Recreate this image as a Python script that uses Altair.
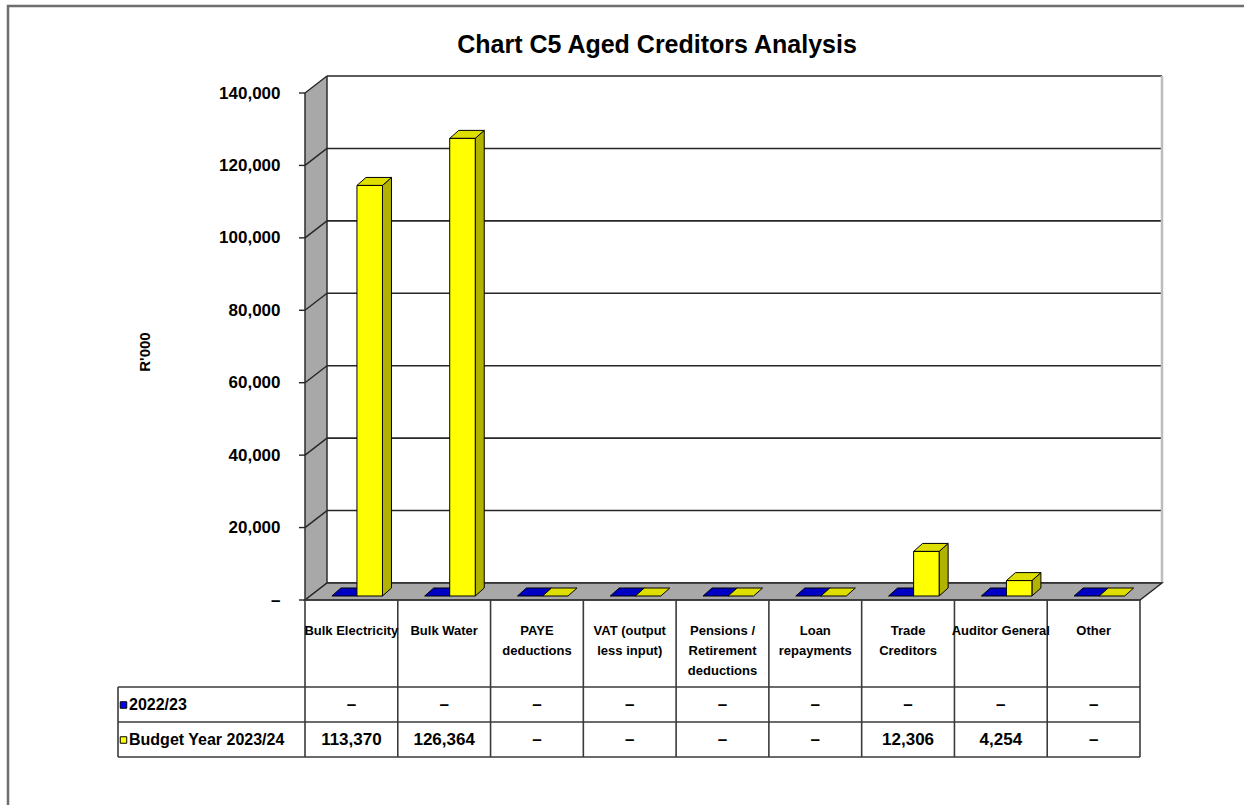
import altair as alt
import pandas as pd

# ---- chart content -------------------------------------------------------
TITLE = "Chart C5 Aged Creditors Analysis"
Y_TITLE = "R'000"

categories = [
    "Bulk Electricity", "Bulk Water", "PAYE deductions", "VAT (output less input)",
    "Pensions / Retirement deductions", "Loan repayments", "Trade Creditors",
    "Auditor General", "Other",
]
# how each category name is broken over lines in the data table header
label_lines = [
    ["Bulk Electricity"], ["Bulk Water"], ["PAYE", "deductions"],
    ["VAT (output", "less input)"], ["Pensions /", "Retirement", "deductions"],
    ["Loan", "repayments"], ["Trade", "Creditors"], ["Auditor General"], ["Other"],
]
series = ["2022/23", "Budget Year 2023/24"]
values_2022_23 = [0, 0, 0, 0, 0, 0, 0, 0, 0]
values_budget_2023_24 = [113370, 126364, 0, 0, 0, 0, 12306, 4254, 0]
y_ticks = [0, 20000, 40000, 60000, 80000, 100000, 120000, 140000]

# ---- styling ---------------------------------------------------------------
front_colors = ["#0000FF", "#FFFF00"]
top_colors = ["#0000C4", "#DEDE00"]
side_colors = ["#00008C", "#B2B200"]
WALL_FILL = "#A8A8A8"
LINE = "#262626"
FONT = "'Liberation Sans', Arial, sans-serif"

# plot frame (pixels) and the page offset of its upper-left corner
W, H = 835, 507
LEFT, TOP = 305, 93
N = len(categories)
Y_MAX = 140000
UX = N / W          # data units per horizontal pixel
UY = Y_MAX / H      # data units per vertical pixel
ZERO_Y = TOP + H


def ax(px):
    """page x pixel -> x data units"""
    return (px - LEFT) * UX


def ay(py):
    """page y pixel -> y data units"""
    return (ZERO_Y - py) * UY


# pseudo-3D depth of the walls and of each column
WALL_DX, WALL_DY = 22 * UX, 17 * UY
BAR_LEFT = [0.29, 0.56]
BAR_W = 0.275
BAR_LIFT = 4 * UY
BAR_DX, BAR_DY = 9 * UX, 8 * UY

x_scale = alt.Scale(domain=[0, N], nice=False, zero=False)
y_scale = alt.Scale(domain=[0, Y_MAX], nice=False, zero=False)
y_axis = alt.Axis(
    values=y_ticks,
    labelExpr="datum.value == 0 ? '\u2013\u00a0\u00a0' : format(datum.value, ',')",
    domain=False, ticks=False, grid=False, title=None,
    labelPadding=25, labelFont=FONT, labelFontSize=17, labelFontWeight="bold",
    labelColor="#000000",
)


def X(field="x"):
    return alt.X(f"{field}:Q", scale=x_scale, axis=None)


def Y(field="y"):
    return alt.Y(f"{field}:Q", scale=y_scale, axis=y_axis)


# ---- walls, floor and gridlines -----------------------------------------------
side_wall = pd.DataFrame([
    dict(x=0, y=0, y2=Y_MAX),
    dict(x=WALL_DX, y=WALL_DY, y2=Y_MAX + WALL_DY),
])
floor = pd.DataFrame([
    dict(y=0, x=0, x2=N),
    dict(y=WALL_DY, x=WALL_DX, x2=N + WALL_DX),
])

frame_lines = []
for v in y_ticks:
    # back-wall gridline, slanted side-wall segment and the small outer tick
    frame_lines.append(dict(x=WALL_DX, x2=N + WALL_DX, y=v + WALL_DY, y2=v + WALL_DY, c=LINE, w=1.6))
    frame_lines.append(dict(x=0, x2=WALL_DX, y=v, y2=v + WALL_DY, c=LINE, w=1.4))
    frame_lines.append(dict(x=-6 * UX, x2=0, y=v, y2=v, c=LINE, w=1.4))
frame_lines.append(dict(x=WALL_DX, x2=WALL_DX, y=WALL_DY, y2=Y_MAX + WALL_DY, c=LINE, w=1.4))
frame_lines.append(dict(x=N + WALL_DX, x2=N + WALL_DX, y=WALL_DY, y2=Y_MAX + WALL_DY, c="#BDBDBD", w=2.5))
frame_lines.append(dict(x=0, x2=0, y=0, y2=Y_MAX, c=LINE, w=1.4))
frame_lines = pd.DataFrame(frame_lines)

# ---- column faces --------------------------------------------------------------
fronts, tops, sides = [], [], []
for s, vals in enumerate([values_2022_23, values_budget_2023_24]):
    for i, v in enumerate(vals):
        xl = i + BAR_LEFT[s]
        xr = xl + BAR_W
        base, top = BAR_LIFT, v + BAR_LIFT
        key = f"{s}-{i}"
        if v > 0:
            fronts.append(dict(x=xl, x2=xr, y=base, y2=top, c=front_colors[s]))
            sides.append(dict(k=key, x=xr, y=base, y2=top, c=side_colors[s]))
            sides.append(dict(k=key, x=xr + BAR_DX, y=base + BAR_DY, y2=top + BAR_DY, c=side_colors[s]))
        tops.append(dict(k=key, y=top, x=xl, x2=xr, c=top_colors[s]))
        tops.append(dict(k=key, y=top + BAR_DY, x=xl + BAR_DX, x2=xr + BAR_DX, c=top_colors[s]))
fronts, tops, sides = pd.DataFrame(fronts), pd.DataFrame(tops), pd.DataFrame(sides)

# ---- data table ------------------------------------------------------------------
TABLE_LEFT = ax(118)
ROW_TOP, ROW_1, ROW_2, ROW_END = ay(ZERO_Y), ay(687), ay(722), ay(757)
table_lines = [
    dict(x=0, x2=N, y=ROW_TOP, y2=ROW_TOP),
    dict(x=TABLE_LEFT, x2=N, y=ROW_1, y2=ROW_1),
    dict(x=TABLE_LEFT, x2=N, y=ROW_2, y2=ROW_2),
    dict(x=TABLE_LEFT, x2=N, y=ROW_END, y2=ROW_END),
    dict(x=TABLE_LEFT, x2=TABLE_LEFT, y=ROW_1, y2=ROW_END),
]
for k in range(N + 1):
    table_lines.append(dict(x=k, x2=k, y=ROW_TOP, y2=ROW_END))
table_lines = pd.DataFrame(table_lines)

cat_labels = pd.DataFrame({"x": [i + 0.5 for i in range(N)], "y": ay(625), "label": label_lines})


def fmt(v):
    return f"{v:,}" if v else "\u2013"


cells = pd.DataFrame(
    [dict(x=i + 0.5, y=ay(705), t=fmt(v)) for i, v in enumerate(values_2022_23)]
    + [dict(x=i + 0.5, y=ay(740), t=fmt(v)) for i, v in enumerate(values_budget_2023_24)]
)
row_heads = pd.DataFrame({
    "x": ax(129), "sx": ax(123.5), "y": [ay(705), ay(740)],
    "t": series, "c": front_colors,
})

# ---- layers ----------------------------------------------------------------------
border = alt.Chart(pd.DataFrame({"a": [0]})).mark_rect(
    fillOpacity=0, stroke="#6E6E6E", strokeWidth=2.5
).encode(
    x=alt.value(8 - LEFT), x2=alt.value(1300 - LEFT),
    y=alt.value(6 - TOP), y2=alt.value(900 - TOP),
)

wall_layer = alt.Chart(side_wall).mark_area(fill=WALL_FILL, stroke=WALL_FILL, strokeWidth=0.5).encode(
    x=X(), y=Y(), y2="y2"
)
floor_layer = alt.Chart(floor).mark_area(
    orient="horizontal", fill=WALL_FILL, stroke=LINE, strokeWidth=1.4
).encode(y=Y(), x=X(), x2="x2")
frame_layer = alt.Chart(frame_lines).mark_rule().encode(
    x=X(), x2="x2", y=Y(), y2="y2",
    color=alt.Color("c:N", scale=None),
    strokeWidth=alt.StrokeWidth("w:Q", scale=None),
)

side_layer = alt.Chart(sides).mark_area(stroke="#000000", strokeWidth=1).encode(
    x=X(), y=Y(), y2="y2", fill=alt.Fill("c:N", scale=None), detail="k:N"
)
top_layer = alt.Chart(tops).mark_area(orient="horizontal", stroke="#000000", strokeWidth=1).encode(
    y=Y(), x=X(), x2="x2", fill=alt.Fill("c:N", scale=None), detail="k:N"
)
front_layer = alt.Chart(fronts).mark_rect(stroke="#000000", strokeWidth=1).encode(
    x=X(), x2="x2", y=Y(), y2="y2", fill=alt.Fill("c:N", scale=None)
)

table_layer = alt.Chart(table_lines).mark_rule(color="#3A3A3A", strokeWidth=1.6).encode(
    x=X(), x2="x2", y=Y(), y2="y2"
)
cat_layer = alt.Chart(cat_labels).mark_text(
    font=FONT, fontSize=13, fontWeight="bold", baseline="top", align="center",
    lineHeight=20, color="#000000",
).encode(x=X(), y=Y(), text="label")
cell_layer = alt.Chart(cells).mark_text(
    font=FONT, fontSize=17, fontWeight="bold", baseline="middle", align="center", color="#000000",
).encode(x=X(), y=Y(), text="t:N")
head_layer = alt.Chart(row_heads).mark_text(
    font=FONT, fontSize=16, fontWeight="bold", baseline="middle", align="left", color="#000000",
).encode(x=X(), y=Y(), text="t:N")
swatch_layer = alt.Chart(row_heads).mark_square(size=42, stroke="#000000", strokeWidth=1, opacity=1).encode(
    x=X("sx"), y=Y(), fill=alt.Fill("c:N", scale=None)
)

title_layer = alt.Chart(pd.DataFrame({"t": [TITLE]})).mark_text(
    font=FONT, fontSize=25, fontWeight="bold", align="center", baseline="alphabetic", color="#000000",
).encode(x=alt.value(657 - LEFT), y=alt.value(53 - TOP), text="t:N")
ytitle_layer = alt.Chart(pd.DataFrame({"t": [Y_TITLE]})).mark_text(
    font=FONT, fontSize=15, fontWeight="bold", align="center", baseline="middle", angle=270,
    color="#000000",
).encode(x=alt.value(145 - LEFT), y=alt.value(352 - TOP), text="t:N")

chart = alt.layer(
    border, wall_layer, frame_layer, floor_layer,
    side_layer, top_layer, front_layer,
    table_layer, cat_layer, cell_layer, head_layer, swatch_layer,
    title_layer, ytitle_layer,
).properties(
    width=W, height=H,
    autosize=alt.AutoSizeParams(type="none"),
    padding={"left": LEFT, "top": TOP, "right": 1244 - LEFT - W, "bottom": 805 - TOP - H},
    background="#FFFFFF",
).configure_view(strokeWidth=0)

chart.save("out.html", embed_options={"renderer": "svg", "actions": False})
